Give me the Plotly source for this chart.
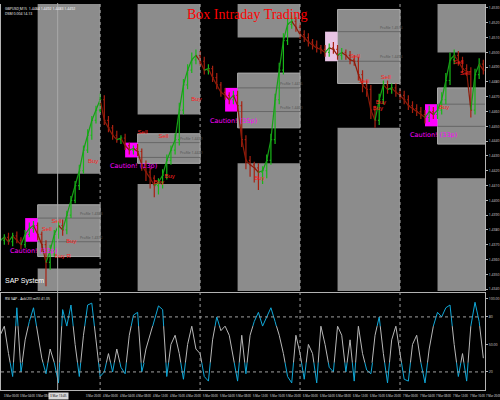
import plotly.graph_objects as go

# hours counted from 00:00 of the first day on screen, one bar per hour
hours = list(range(117))
close = [
    1.4373, 1.4375, 1.4372, 1.4376, 1.4373, 1.4370, 1.4377, 1.4381, 1.4383, 1.4377,
    1.4370, 1.4358, 1.4366, 1.4377, 1.4383, 1.4380, 1.4390, 1.4400, 1.4410, 1.4420,
    1.4434, 1.4444, 1.4454, 1.4461, 1.4468, 1.4454, 1.4449, 1.4444, 1.4441, 1.4442,
    1.4437, 1.4434, 1.4435, 1.4433, 1.4424, 1.4419, 1.4415, 1.4410, 1.4412, 1.4417,
    1.4427, 1.4434, 1.4441, 1.4461, 1.4478, 1.4488, 1.4495, 1.4498, 1.4494, 1.4488,
    1.4489, 1.4483, 1.4478, 1.4473, 1.4471, 1.4468, 1.4471, 1.4464, 1.4441, 1.4427,
    1.4424, 1.4422, 1.4419, 1.4420, 1.4427, 1.4441, 1.4468, 1.4488, 1.4508, 1.4519,
    1.4521, 1.4517, 1.4512, 1.4510, 1.4507, 1.4505, 1.4503, 1.4502, 1.4500, 1.4503,
    1.4502, 1.4498, 1.4500, 1.4498, 1.4495, 1.4494, 1.4485, 1.4478, 1.4475, 1.4461,
    1.4454, 1.4468, 1.4478, 1.4475, 1.4476, 1.4473, 1.4471, 1.4468, 1.4464, 1.4462,
    1.4460, 1.4458, 1.4456, 1.4460, 1.4458, 1.4461, 1.4468, 1.4481, 1.4495, 1.4498,
    1.4494, 1.4489, 1.4487, 1.4461, 1.4485, 1.4492, 1.4488,
]
# wick lengths in pips above / below each bar body
wick_up = [
    3, 2, 3, 2, 3, 2, 3, 4, 3, 2, 2, 3, 4, 3, 3, 4, 3, 3, 3, 4,
    3, 4, 3, 3, 4, 3, 3, 2, 3, 2, 3, 2, 2, 3, 2, 3, 3, 2, 3, 4,
    4, 3, 4, 5, 4, 4, 5, 4, 3, 3, 3, 2, 3, 2, 3, 2, 3, 3, 3, 3,
    3, 2, 3, 3, 4, 4, 4, 5, 5, 4, 4, 3, 3, 3, 3, 2, 3, 2, 3, 3,
    4, 3, 3, 2, 3, 3, 3, 3, 3, 3, 3, 4, 3, 3, 3, 3, 2, 3, 3, 3,
    3, 3, 3, 4, 3, 4, 5, 5, 5, 4, 3, 3, 3, 3, 4, 4, 3,
]
wick_dn = [
    2, 3, 2, 3, 2, 3, 2, 2, 3, 4, 5, 16, 5, 4, 3, 4, 3, 2, 2, 3,
    2, 2, 3, 2, 2, 3, 3, 3, 2, 3, 3, 3, 3, 3, 4, 6, 7, 8, 6, 4,
    3, 3, 3, 4, 3, 3, 2, 3, 3, 3, 3, 3, 3, 3, 3, 3, 3, 4, 5, 6,
    8, 10, 12, 8, 5, 3, 3, 3, 3, 3, 3, 3, 3, 3, 3, 3, 3, 3, 3, 3,
    3, 3, 3, 3, 3, 3, 4, 5, 5, 6, 5, 3, 3, 3, 3, 3, 3, 3, 3, 3,
    3, 3, 4, 3, 3, 3, 3, 3, 3, 3, 3, 3, 3, 5, 3, 3, 3,
]
rsi = [
    60, 70, 40, 15, 90, 20, 55, 75, 90, 60, 35, 18, 45, 30, 8, 88, 70, 93, 50, 15,
    60, 93, 95, 55, 15, 20, 40, 20, 45, 25, 18, 60, 82, 85, 20, 45, 60, 75, 92, 88,
    15, 50, 60, 40, 12, 50, 70, 45, 40, 15, 10, 55, 80, 65, 70, 60, 35, 10, 60, 18,
    60, 75, 85, 70, 80, 90, 75, 60, 40, 15, 8, 60, 40, 12, 50, 40, 8, 70, 50, 25,
    20, 70, 60, 20, 55, 10, 70, 40, 22, 18, 60, 80, 40, 8, 55, 70, 40, 12, 10, 50,
    60, 30, 8, 45, 70, 85, 80, 90, 93, 50, 15, 40, 10, 70, 96, 75, 35,
]

# one entry per trading day
box_start = [9, 33, 57, 81, 105]
box_end = [24, 48, 72, 96, 120]
caution_start = [6, 30, 54, 78, 102]
upper_low = [1.4418, 1.4458, 1.4510, 1.4560, 1.4500]
box_high = [1.4397, 1.4445, 1.4486, 1.4529, 1.4476]
box_low = [1.4362, 1.4425, 1.4449, 1.4479, 1.4438]
profile_high = [1.4388, 1.4439, 1.4476, 1.4514, 1.4465]
profile_low = [1.4372, 1.4429, 1.4460, 1.4494, 1.4450]
lower_high = [1.4354, 1.4411, 1.4425, 1.4449, 1.4415]
caution_text = ["Caution! (33p)", "Caution! (13p)", "Caution! (35p)", "", "Caution! (33p)"]
caution_color = ["#ff00ff", "#ff00ff", "#ff00ff", "#e8c4e4", "#ff00ff"]
day_breaks = [24, 48, 72, 96]

signal_hour = [11.2, 13.5, 17.1, 15.0, 22.3, 34.2, 39.2, 38.1, 40.7, 47.1,
               62.3, 85.2, 87.3, 92.6, 91.4, 90.7, 106.6, 110.0, 111.6]
signal_price = [1.4380, 1.4386, 1.4372, 1.4362, 1.4426, 1.4446, 1.4443, 1.4412, 1.4416, 1.4468,
                1.4415, 1.4497, 1.4480, 1.4483, 1.4466, 1.4462, 1.4463, 1.4493, 1.4486]
signal_text = ["Sell", "Sell", "Buy", "Buy R", "Buy", "Sell", "Sell", "Buy", "Buy", "Buy",
               "Buy", "Sell", "Sell", "Sell", "Buy", "Buy", "Buy", "Sell", "Sell"]

price_ticks = [1.4340 + 0.001 * i for i in range(20)]
rsi_ticks = [0, 20, 50, 80, 100]
rsi_tick_text = ["0.00", "20", "50.00", "80", "100.00"]
rsi_levels = [80, 20]
time_ticks = list(range(0, 117, 4))
day_names = ["3 Mar", "4 Mar", "5 Mar", "6 Mar", "7 Mar"]
time_labels = [f"{day_names[h // 24]} {h % 24:02d}:00" for h in time_ticks]
crosshair_hour = 13.8
crosshair_label = "3 Mar 13:45"

X_RANGE = [0.2, 116.4]
MAIN_DOM = [0.2577, 0.9974]
RSI_DOM = [0.0026, 0.2526]
PRICE_RANGE = [1.43387, 1.45327]
RSI_RANGE = [0.3, 106.1]
GREY = "#8c8c8c"
PIP = 0.0001

fig = go.Figure()

opens = [close[0]] + close[:-1]
highs = [max(o, c) + u * PIP for o, c, u in zip(opens, close, wick_up)]
lows = [min(o, c) - d * PIP for o, c, d in zip(opens, close, wick_dn)]

# thin path joining the closes, coloured by direction
up_x, up_y, dn_x, dn_y = [], [], [], []
for i in range(1, len(close)):
    xs = [hours[i - 1], hours[i], None]
    ys = [close[i - 1], close[i], None]
    if close[i] >= close[i - 1]:
        up_x += xs
        up_y += ys
    else:
        dn_x += xs
        dn_y += ys
fig.add_trace(go.Scatter(x=dn_x, y=dn_y, mode="lines", line=dict(color="#8c1a08", width=1.2),
                         hoverinfo="skip"))
fig.add_trace(go.Scatter(x=up_x, y=up_y, mode="lines", line=dict(color="#16a016", width=1.2),
                         hoverinfo="skip"))
fig.add_trace(go.Ohlc(x=hours, open=opens, high=highs, low=lows, close=close, tickwidth=0.3,
                      increasing=dict(line=dict(color="#18b818", width=1.2)),
                      decreasing=dict(line=dict(color="#a82010", width=1.2)),
                      hoverinfo="skip"))

fig.add_trace(go.Scatter(x=signal_hour, y=signal_price, mode="text", text=signal_text,
                         textfont=dict(color="#ff2020", size=6, family="Liberation Sans")))

# oscillator: grey everywhere, cyan when outside the 30-70 band
fig.add_trace(go.Scatter(x=hours, y=rsi, mode="lines", line=dict(color="#b8b8b8", width=1),
                         xaxis="x", yaxis="y2"))
span = RSI_RANGE[1] - RSI_RANGE[0]
hi_frac = RSI_DOM[0] + (70 - RSI_RANGE[0]) / span * (RSI_DOM[1] - RSI_DOM[0])
lo_frac = RSI_DOM[0] + (30 - RSI_RANGE[0]) / span * (RSI_DOM[1] - RSI_DOM[0])
fig.add_trace(go.Scatter(x=hours, y=rsi, mode="lines", line=dict(color="#10a8d8", width=1),
                         xaxis="x", yaxis="y3"))
fig.add_trace(go.Scatter(x=hours, y=rsi, mode="lines", line=dict(color="#10a8d8", width=1),
                         xaxis="x", yaxis="y4"))

shapes = []
for i in range(len(box_start)):
    x0, x1 = box_start[i], box_end[i]
    shapes.append(dict(type="rect", xref="x", yref="y", x0=x0, x1=x1, y0=upper_low[i], y1=1.47,
                       fillcolor=GREY, line_width=0, layer="below"))
    shapes.append(dict(type="rect", xref="x", yref="y", x0=x0, x1=x1, y0=box_low[i], y1=box_high[i],
                       fillcolor=GREY, line=dict(color="#aaaaaa", width=1), layer="below"))
    shapes.append(dict(type="rect", xref="x", yref="y", x0=x0, x1=x1, y0=1.42, y1=lower_high[i],
                       fillcolor=GREY, line_width=0, layer="below"))
    for lvl in (profile_high[i], profile_low[i]):
        shapes.append(dict(type="line", xref="x", yref="y", x0=x0, x1=x1, y0=lvl, y1=lvl,
                           line=dict(color="#666666", width=1), layer="below"))
    shapes.append(dict(type="rect", xref="x", yref="y", x0=caution_start[i], x1=x0,
                       y0=profile_low[i], y1=profile_high[i], fillcolor=caution_color[i],
                       line_width=0, layer="below"))
for d in day_breaks:
    shapes.append(dict(type="line", xref="x", yref="paper", x0=d, x1=d, y0=0, y1=1,
                       line=dict(color="#a0a0a0", width=1, dash="dot")))
for lvl in rsi_levels:
    shapes.append(dict(type="line", xref="paper", yref="y2", x0=0, x1=1, y0=lvl, y1=lvl,
                       line=dict(color="#a0a0a0", width=1, dash="dot")))
shapes.append(dict(type="line", xref="x", yref="paper", x0=crosshair_hour, x1=crosshair_hour,
                   y0=0, y1=1, line=dict(color="#a8a8a8", width=1)))

annotations = []
for i in range(len(box_start)):
    for lvl in (profile_high[i], profile_low[i]):
        annotations.append(dict(x=box_end[i] + 1, y=lvl, xref="x", yref="y",
                                text=f"Profile {lvl:.4f}", showarrow=False,
                                xanchor="right", yanchor="bottom",
                                font=dict(size=3.5, color="#505050")))
    if caution_text[i]:
        annotations.append(dict(x=box_start[i] - 1, y=profile_low[i], xref="x", yref="y",
                                text=caution_text[i], showarrow=False, yanchor="top", yshift=-3,
                                font=dict(size=6.5, color="#ff00ff", family="DejaVu Sans")))
for t, lab in zip(time_ticks, time_labels):
    if abs(t - crosshair_hour) < 3:
        continue  # hidden behind the crosshair time box
    annotations.append(dict(x=max(t, X_RANGE[0] + 0.05), y=0, xref="x", yref="paper", text=lab,
                            showarrow=False, xanchor="left", yanchor="top", xshift=1, yshift=-1,
                            font=dict(size=2.7, color="#e4e4e4")))
annotations.append(dict(x=crosshair_hour, y=0, xref="x", yref="paper", text=crosshair_label,
                        showarrow=False, xanchor="left", xshift=-10, yanchor="top", yshift=-1,
                        bgcolor="#d8d8d8", font=dict(size=3, color="#000000")))
annotations += [
    dict(x=0.51, y=0.994, xref="paper", yref="paper", text="Box Intraday Trading",
         yanchor="top", showarrow=False,
         font=dict(family="Liberation Serif", size=14, color="#ff0000")),
    dict(x=0.004, y=0.998, xref="paper", yref="paper", xanchor="left", yanchor="top",
         text="GBPUSD,M15  1.4484 1.4492 1.4483 1.4492<br>DSM 0.004 14.13", showarrow=False,
         align="left", font=dict(size=3.5, color="#ffffff")),
    dict(x=0.004, y=0.268, xref="paper", yref="paper", xanchor="left", yanchor="bottom",
         text="SAP System", showarrow=False,
         font=dict(size=7, color="#ffffff", family="Liberation Sans")),
    dict(x=0.004, y=0.25, xref="paper", yref="paper", xanchor="left", yanchor="top",
         text="RSI SAP - Ask(20) m(5) 41.05", showarrow=False,
         font=dict(size=3.5, color="#ffffff")),
]

axis_common = dict(showgrid=False, zeroline=False, showline=True, linecolor="#b4b4b4",
                   mirror=True)
fig.update_layout(
    width=500,
    height=400,
    margin=dict(l=0, r=12, t=3, b=9),
    paper_bgcolor="#000000",
    plot_bgcolor="#000000",
    showlegend=False,
    shapes=shapes,
    annotations=annotations,
    xaxis=dict(range=X_RANGE, anchor="y2", showticklabels=False,
               rangeslider=dict(visible=False), **axis_common),
    yaxis=dict(domain=MAIN_DOM, range=PRICE_RANGE, side="right", tickvals=price_ticks,
               ticktext=[f"{v:.4f}" for v in price_ticks], ticks="outside", ticklen=2,
               tickcolor="#b4b4b4", tickfont=dict(size=3.5, color="#d0d0d0"), **axis_common),
    yaxis2=dict(domain=RSI_DOM, range=RSI_RANGE, side="right", tickvals=rsi_ticks,
                ticktext=rsi_tick_text, ticks="outside", ticklen=2, tickcolor="#b4b4b4",
                tickfont=dict(size=3.5, color="#d0d0d0"), **axis_common),
    yaxis3=dict(domain=[hi_frac, RSI_DOM[1]], range=[70, RSI_RANGE[1]], visible=False),
    yaxis4=dict(domain=[RSI_DOM[0], lo_frac], range=[RSI_RANGE[0], 30], visible=False),
)

fig.write_html("out.html", config={"displayModeBar": False},
               post_script="document.body.style.margin='0';"
               "document.body.style.background='#000';")
